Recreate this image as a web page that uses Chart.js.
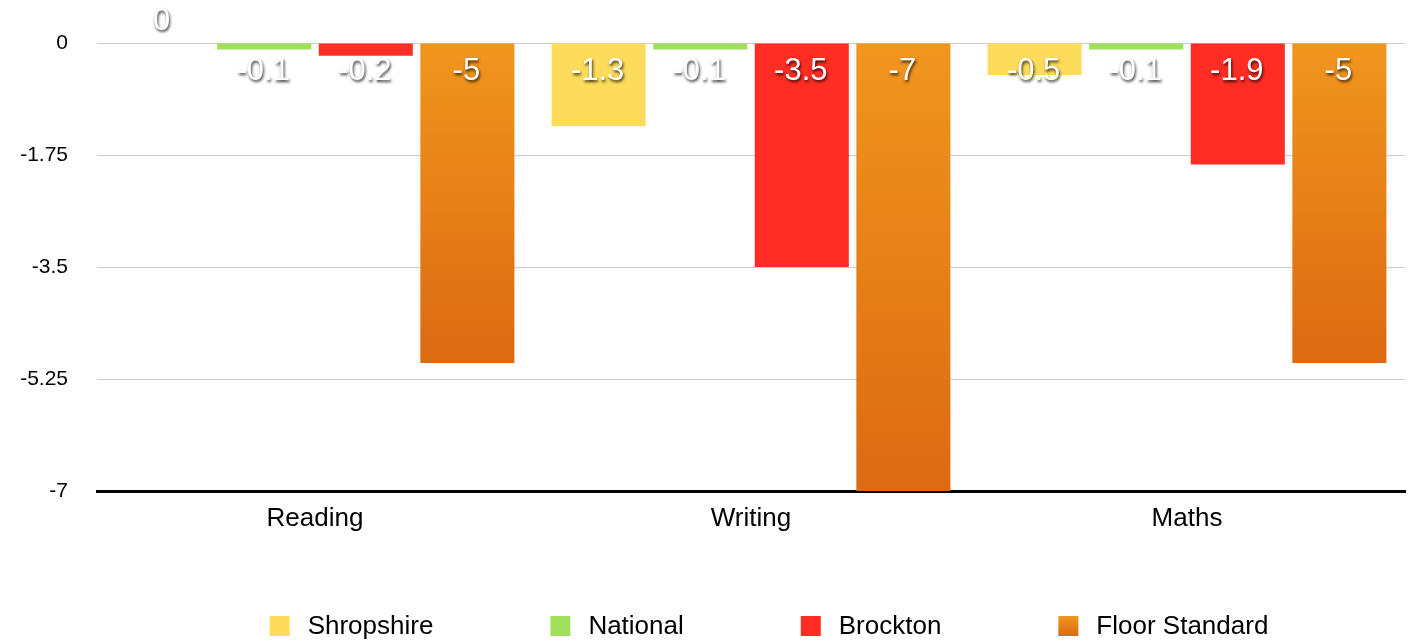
<!DOCTYPE html>
<html>
<head>
<meta charset="utf-8">
<script src="https://cdn.jsdelivr.net/npm/chart.js@4.4.1/dist/chart.umd.min.js"></script>
<style>
  html, body { margin: 0; padding: 0; background: #fff; }
</style>
</head>
<body>
<canvas id="progressChart" width="1413" height="644"></canvas>
<script>
const subjects = ['Reading', 'Writing', 'Maths'];
const shropshire = [0, -1.3, -0.5];
const national = [-0.1, -0.1, -0.1];
const brockton = [-0.2, -3.5, -1.9];
const floorStandard = [-5, -7, -5];
const yTicks = [0, -1.75, -3.5, -5.25, -7];

const FONT = '"Liberation Sans", Arial, Helvetica, sans-serif';

// orange bars fade from light at the top to darker at the bottom
function floorFill(ctx) {
  const chart = ctx.chart;
  if (!chart.chartArea || ctx.type !== 'data') return '#e8861a';
  const y = chart.scales.y;
  const top = y.getPixelForValue(0);
  const bottom = y.getPixelForValue(ctx.raw);
  if (bottom - top < 1) return '#f0961e';
  const g = chart.ctx.createLinearGradient(0, top, 0, bottom);
  g.addColorStop(0, '#f0961e');
  g.addColorStop(1, '#dc6a12');
  return g;
}

const valueLabels = {
  id: 'valueLabels',
  afterDatasetsDraw(chart) {
    const c = chart.ctx;
    const zeroY = chart.scales.y.getPixelForValue(0);
    c.save();
    c.font = '31px ' + FONT;
    c.fillStyle = '#ffffff';
    c.textAlign = 'center';
    c.textBaseline = 'middle';
    c.shadowColor = 'rgba(0,0,0,0.8)';
    c.shadowOffsetX = 1;
    c.shadowOffsetY = 2;
    c.shadowBlur = 3;
    chart.data.datasets.forEach((ds, i) => {
      chart.getDatasetMeta(i).data.forEach((bar, j) => {
        const v = ds.data[j];
        const y = v === 0 ? zeroY - 22 : zeroY + 28;
        c.fillText(String(v), bar.x - 1, y);
      });
    });
    c.restore();
  }
};

const bottomLegend = {
  id: 'bottomLegend',
  afterDraw(chart) {
    const c = chart.ctx;
    c.save();
    c.font = '26px ' + FONT;
    c.textBaseline = 'middle';
    const box = 20, textGap = 18, gap = 117, y = 626;
    const items = chart.data.datasets.map(ds => ({
      label: ds.label,
      color: ds.legendColor,
      width: box + textGap + c.measureText(ds.label).width
    }));
    const total = items.reduce((s, it) => s + it.width, 0) + gap * (items.length - 1);
    let x = 769 - total / 2;
    items.forEach(it => {
      if (Array.isArray(it.color)) {
        const g = c.createLinearGradient(0, y - box / 2, 0, y + box / 2);
        g.addColorStop(0, it.color[0]);
        g.addColorStop(1, it.color[1]);
        c.fillStyle = g;
      } else {
        c.fillStyle = it.color;
      }
      c.fillRect(x, y - box / 2, box, box);
      c.fillStyle = '#000';
      c.fillText(it.label, x + box + textGap, y + 1);
      x += it.width + gap;
    });
    c.restore();
  }
};

new Chart(document.getElementById('progressChart'), {
  type: 'bar',
  data: {
    labels: subjects,
    datasets: [
      { label: 'Shropshire', data: shropshire, backgroundColor: '#fddc5c', legendColor: '#fddc5c' },
      { label: 'National', data: national, backgroundColor: '#a0e05a', legendColor: '#a0e05a' },
      { label: 'Brockton', data: brockton, backgroundColor: '#ff2d24', legendColor: '#ff2d24' },
      { label: 'Floor Standard', data: floorStandard, backgroundColor: floorFill, legendColor: ['#f0961e', '#dc6a12'] }
    ]
  },
  options: {
    responsive: false,
    devicePixelRatio: 1,
    animation: false,
    categoryPercentage: 0.932,
    barPercentage: 0.926,
    layout: { padding: { top: 43, right: 8, bottom: 0, left: 0 } },
    plugins: {
      legend: { display: false },
      tooltip: { enabled: false }
    },
    scales: {
      x: {
        grid: { display: false, drawTicks: false },
        border: { display: true, color: '#000', width: 3 },
        ticks: { color: '#000', font: { family: FONT, size: 26 }, padding: 12 },
        afterFit: scale => { scale.height = 153; }
      },
      y: {
        min: -7,
        max: 0,
        afterBuildTicks: scale => { scale.ticks = yTicks.map(v => ({ value: v })); },
        grid: { color: '#cccccc', lineWidth: 1, drawTicks: false },
        border: { display: false },
        ticks: {
          color: '#000',
          font: { family: FONT, size: 21 },
          padding: 29,
          callback: v => String(v)
        },
        afterFit: scale => { scale.width = 97; }
      }
    }
  },
  plugins: [valueLabels, bottomLegend]
});
</script>
</body>
</html>
